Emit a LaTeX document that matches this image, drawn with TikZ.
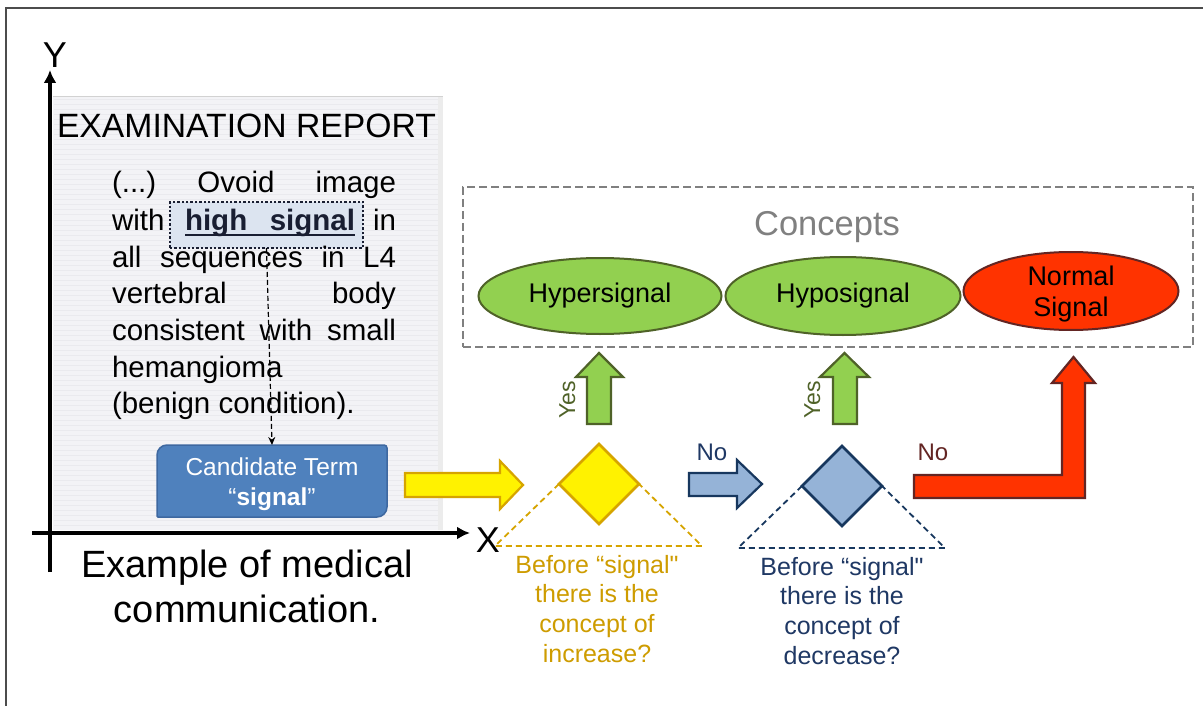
\documentclass[tikz,border=0pt]{standalone}
\usepackage{fontspec}
\setmainfont{Liberation Sans}[Ligatures=TeXOff]
\usetikzlibrary{shapes.geometric,arrows.meta}

\definecolor{candblue}{RGB}{79,129,189}
\definecolor{candline}{RGB}{62,104,160}
\definecolor{goldline}{RGB}{214,164,0}
\definecolor{goldtext}{RGB}{206,156,0}
\definecolor{greenfill}{RGB}{146,208,80}
\definecolor{greenline}{RGB}{79,98,40}
\definecolor{bluefill}{RGB}{149,179,215}
\definecolor{blueline}{RGB}{23,55,94}
\definecolor{bluetext}{RGB}{31,56,100}
\definecolor{redfill}{RGB}{255,51,0}
\definecolor{redline}{RGB}{99,37,35}
\definecolor{conceptgray}{RGB}{128,128,128}
\definecolor{paperc}{RGB}{243,243,246}
\definecolor{paperline}{RGB}{234,234,238}
\definecolor{hlfill}{RGB}{220,228,240}
\definecolor{hltext}{RGB}{25,30,50}

\newcommand\fsz[2]{\fontsize{#1}{#2}\selectfont}

\begin{document}
\begin{tikzpicture}[x=1pt,y=-1pt,
  every node/.style={inner sep=0pt, outer sep=0pt},
  bodytxt/.style={font=\fsz{29.5}{34}, anchor=base west},
  blockarrow/.style={line width=2.2pt, line join=miter},
  oval/.style={ellipse, draw=greenline, fill=greenfill, line width=2pt, font=\fsz{27}{30}},
  decision/.style={diamond, minimum width=80pt, minimum height=80pt, line width=2.5pt},
  axis/.style={line width=4pt, -{Latex[length=13pt,width=13pt]}},
  qtxt/.style={font=\fsz{25}{28}, anchor=base},
  yestxt/.style={font=\fsz{23}{28}, text=greenline, rotate=90, anchor=base},
  notxt/.style={font=\fsz{24}{28}, anchor=base}
]
\useasboundingbox (0,0) rectangle (1203,706);
\fill[white] (0,0) rectangle (1203,706);

% outer frame
\draw[gray!60!black, line width=1.5pt] (6,706) -- (6,8) -- (1203,8);

% report sheet
\fill[paperc] (53,97) rectangle (443,530);
\foreach \yy in {100,105,...,528}
  \draw[paperline, line width=1pt] (54,\yy) -- (442,\yy);
\draw[gray!35, line width=1pt] (53,97) -- (443,97);
\fill[gray!15] (438,97) rectangle (443,530);

\node[font=\fsz{33.7}{40}, anchor=base west] (title) at (57,138) {EXAMINATION REPORT};

% highlighted term
\node[draw=hltext, fill=hlfill, line width=2.4pt, dash pattern=on 2.4pt off 2pt,
      minimum width=193pt, minimum height=46pt] (hl) at (266.5,225) {};
\node[font=\bfseries\fsz{29.5}{34}, text=hltext, anchor=base] (hs) at (270,230)
  {\hbox to 170pt{high\hfill signal}};
\draw[hltext, line width=2.2pt] (hs.base west) ++(0,5) -- ([yshift=-5pt]hs.base east);

% report body
\node[bodytxt] (l1) at (112,193) {\hbox to 284pt{(...)\hfill Ovoid\hfill image}};
\node[bodytxt] (l2a) at (112,230) {with};
\node[bodytxt, anchor=base east] (l2b) at (396,230) {in};
\node[bodytxt] (l3) at (112,267) {\hbox to 284pt{all\hfill sequences\hfill in\hfill L4}};
\node[bodytxt] (l4) at (112,303) {\hbox to 284pt{vertebral\hfill body}};
\node[bodytxt] (l5) at (112,340) {\hbox to 284pt{consistent\hfill with\hfill small}};
\node[bodytxt] (l6) at (112,377) {hemangioma};
\node[bodytxt] (l7) at (112,413) {(benign condition).};

% candidate term box
\fill[candblue, draw=candline, line width=1.5pt, rounded corners=10pt]
  (157,481) -- (157,445) -- (270,445) [rounded corners=3pt] -- (387,445) -- (387,481)
  [rounded corners=10pt] -- (387,517) -- (270,517) [rounded corners=1pt] -- (157,517) -- cycle;
\node[minimum width=230pt, minimum height=72pt] (cand) at (272,481) {};
\node[font=\fsz{24.5}{27}, text=white, anchor=base] (candA) at (272,475) {Candidate Term};
\node[font=\fsz{24.5}{27}, text=white, anchor=base] (candB) at (272,505) {“\textbf{signal}”};

\draw[black, line width=1.2pt, dash pattern=on 5pt off 3pt, -{Stealth[length=8pt,width=7pt]}]
  (hl.south) -- (cand.north);

% axes
\coordinate (yo) at (50,572);
\coordinate (ytip) at (50,70);
\coordinate (xo) at (32,533);
\coordinate (xtip) at (470,533);
\draw[axis] (yo) -- (ytip);
\draw[axis] (xo) -- (xtip);
\node[font=\fsz{36}{40}] (ylab) at (55,55) {Y};
\node[font=\fsz{36}{40}] (xlab) at (488,540) {X};

\node[font=\fsz{38}{44}, anchor=base] (cap1) at (247,577) {Example of medical};
\node[font=\fsz{38}{44}, anchor=base] (cap2) at (247,622) {communication.};

% concept box
\node[draw=conceptgray, line width=2.5pt, dash pattern=on 8pt off 4pt,
      minimum width=730pt, minimum height=160pt] (cbox) at (828,267) {};
\node[font=\fsz{34.5}{38}, text=conceptgray, anchor=base] (ctitle) at (827,235) {Concepts};
\node[oval, minimum width=243pt, minimum height=76pt] (hyper) at (600,296) {Hypersignal};
\node[oval, minimum width=235pt, minimum height=78pt] (hypo) at (843,296) {Hyposignal};
\node[oval, fill=redfill, draw=redline, minimum width=215pt, minimum height=78pt] (normal) at (1071,291) {};
\node[font=\fsz{27}{30}, anchor=base] (nA) at (1071,285) {Normal};
\node[font=\fsz{27}{30}, anchor=base] (nB) at (1071,316) {Signal};

% decisions
\node[decision, fill=yellow, draw=goldline] (d1) at (599,484) {};
\node[decision, fill=bluefill, draw=blueline] (d2) at (842,486) {};

\draw[goldline, line width=1.8pt, dash pattern=on 6pt off 4pt]
  (d1.west) -- (495,546) -- (702,546) -- (d1.east);
\draw[blueline, line width=1.8pt, dash pattern=on 6pt off 4pt]
  (d2.west) -- (738,548) -- (945,548) -- (d2.east);

\foreach \t [count=\i] in {Before “signal",there is the,concept of,increase?}
  \node[qtxt, text=goldtext] at (597,{573+29.7*(\i-1)}) {\t};
\foreach \t [count=\i] in {Before “signal",there is the,concept of,decrease?}
  \node[qtxt, text=bluetext] at (842,{575+29.7*(\i-1)}) {\t};

% block arrows
\draw[blockarrow, fill=yellow, draw=goldline]
  (405,473) -- (500,473) -- (500,461) -- (523,485) -- (500,509) -- (500,497) -- (405,497) -- cycle;
\draw[blockarrow, fill=bluefill, draw=blueline]
  (689,473) -- (737,473) -- (737,460) -- (762,484) -- (737,508) -- (737,496) -- (689,496) -- cycle;
\draw[blockarrow, fill=greenfill, draw=greenline]
  (587,424) -- (587,377) -- (576,377) -- (599,353) -- (623,377) -- (611,377) -- (611,424) -- cycle;
\draw[blockarrow, fill=greenfill, draw=greenline]
  (833,424) -- (833,377) -- (820,377) -- (844.5,353) -- (869,377) -- (857,377) -- (857,424) -- cycle;
\draw[blockarrow, fill=redfill, draw=redline]
  (914,475) -- (1062,475) -- (1062,383) -- (1052,383) -- (1073.5,357) -- (1095,383)
  -- (1085,383) -- (1085,498) -- (914,498) -- cycle;

\node[yestxt] (yes1) at (575,400) {Yes};
\node[yestxt] (yes2) at (820,400) {Yes};
\node[notxt, text=bluetext] (no1) at (712,460) {No};
\node[notxt, text=redline] (no2) at (933,460) {No};
\end{tikzpicture}
\end{document}
